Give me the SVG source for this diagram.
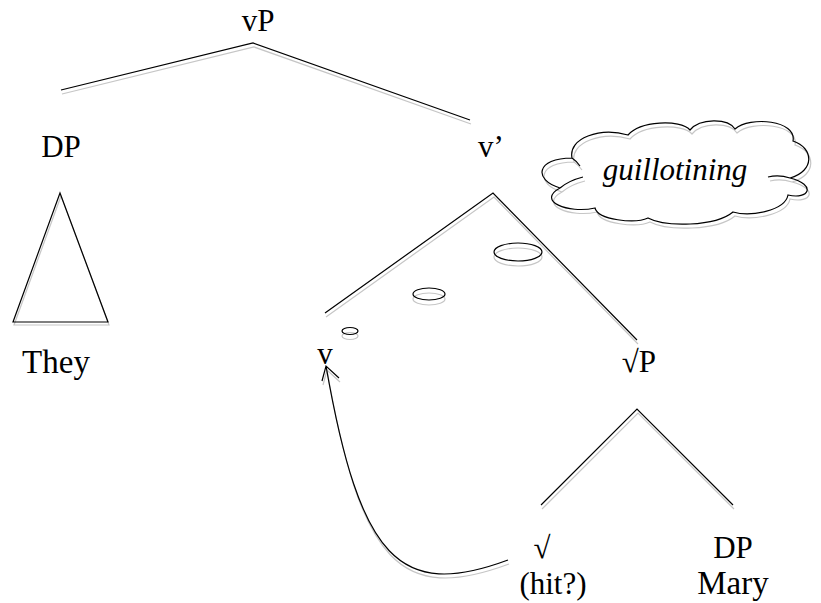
<svg xmlns="http://www.w3.org/2000/svg" xmlns:xlink="http://www.w3.org/1999/xlink" width="821" height="603" viewBox="0 0 821 603">
<style>
.ln{fill:none;stroke:#000;stroke-width:1.2;stroke-linejoin:miter}
.sh{fill:none;stroke:#c6c6c6;stroke-width:1.2}
.t{font-family:"Liberation Serif","Times New Roman",serif;font-size:31px;fill:#000;text-anchor:middle}
.big{font-size:33px}
.it{font-style:italic;font-size:31px}
</style>
<defs>
<polyline id="b-vP" points="61,90 253,43 470,120"/>
<polyline id="b-v1" points="325,313 493,193 637,340"/>
<polyline id="b-rP" points="541,505 637,409 733,505"/>
<polygon id="tri" points="60,193 13,322 108,322"/>
<g id="ovals">
<ellipse cx="518" cy="252" rx="24" ry="9"/>
<ellipse cx="429" cy="294" rx="16" ry="6"/>
<ellipse cx="350" cy="331" rx="8" ry="3.5"/>
</g>
<path id="cloudp" d="M560,188 C533,180 536,158 572,158 C568,138 600,127 628,135 C640,121 680,119 690,130 C700,118 728,118 735,129 C750,116 797,120 793,141 C814,148 815,171 790,178 C817,185 809,200 788,195 C785,211 750,217 733,212 C715,227 665,227 648,218 C635,224 598,220 595,208 C568,214 536,201 560,188 Z M768,177 C776,175 784,176 790,178 M583,177 C575,179 566,183 560,188 M572,158 C575,160 578,163 580,166"/>
<path id="mv" d="M508,560 C400,600 360,560 326,366 M322,381 L326,366 L339,378"/>
</defs>
<g id="connectors">
<use xlink:href="#b-vP" class="sh" transform="translate(1,4)"/>
<use xlink:href="#b-vP" class="ln"/>
<use xlink:href="#b-v1" class="sh" transform="translate(1,4)"/>
<use xlink:href="#b-v1" class="ln"/>
<use xlink:href="#b-rP" class="sh" transform="translate(1,4)"/>
<use xlink:href="#b-rP" class="ln"/>
<use xlink:href="#mv" class="sh" transform="translate(1,4)"/>
<use xlink:href="#mv" class="ln"/>
</g>
<g id="n-ovals">
<use xlink:href="#ovals" class="sh" transform="translate(0,5)"/>
<use xlink:href="#ovals" class="ln"/>
</g>
<g id="n-vP"><text class="t" x="258" y="31">vP</text></g>
<g id="n-DP1"><text class="t" x="61" y="157">DP</text></g>
<g id="n-vbar"><text class="t" x="491" y="157">v’</text></g>
<g id="n-they">
<use xlink:href="#tri" class="sh" transform="translate(1,3)"/>
<use xlink:href="#tri" class="ln"/>
<text class="t big" x="56" y="373">They</text>
</g>
<g id="n-v"><text class="t" x="325" y="364">v</text></g>
<g id="n-rootP"><text class="t" x="639" y="372">√P</text></g>
<g id="n-root"><text class="t" x="542" y="558">√</text><text class="t" x="553" y="594">(hit?)</text></g>
<g id="n-DP2"><text class="t" x="733" y="558">DP</text><text class="t big" x="733" y="594">Mary</text></g>
<g id="n-cloud">
<use xlink:href="#cloudp" class="sh" transform="translate(2,4)"/>
<use xlink:href="#cloudp" class="ln"/>
<text class="t it" x="675" y="180">guillotining</text>
</g>
</svg>
